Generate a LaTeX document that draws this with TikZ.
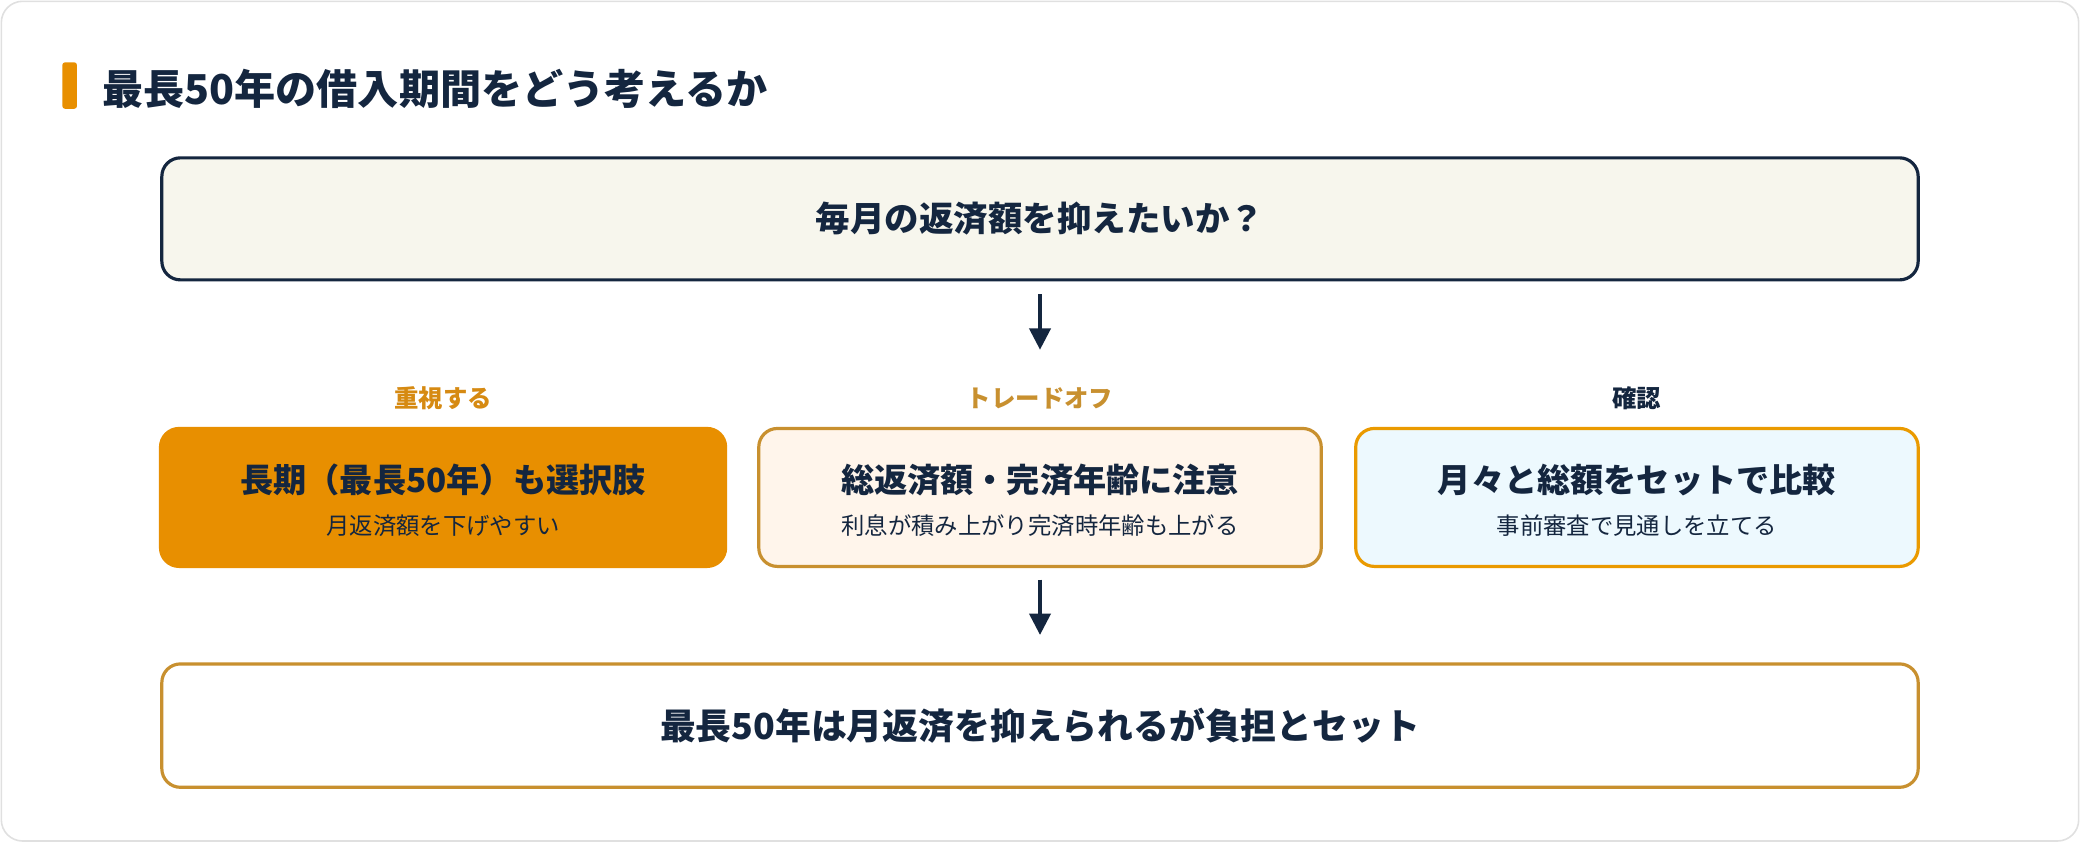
\documentclass[tikz,border=0pt]{standalone}
\usepackage{fontspec}
\setmainfont{Noto Sans CJK JP}
\usetikzlibrary{arrows.meta}
\definecolor{navy}{HTML}{14263F}
\definecolor{org}{HTML}{E88F00}
\definecolor{gold}{HTML}{C8902F}
\definecolor{lbl}{HTML}{D68A12}
\begin{document}
\begin{tikzpicture}[x=0.5pt,y=-0.5pt,
 box/.style={draw, line width=1.2pt, rounded corners=7pt, align=center, inner sep=0pt},
 arr/.style={draw=navy, line width=1.2pt, -{Triangle[length=8pt,width=8pt]}},
 lab/.style={font=\bfseries\fontsize{9.2}{11}\selectfont}]
\path[use as bounding box] (0,0) rectangle (1568,635);
\draw[color=black!12, fill=white, rounded corners=8pt, line width=0.6pt] (1,1) rectangle (1567,634);
\fill[org, rounded corners=1pt] (47,47) rectangle (58,82);
\node[anchor=west, text=navy, font=\bfseries\fontsize{15.5}{18}\selectfont] (title) at (70,67) {最長50年の借入期間をどう考えるか};
\node[box, draw=navy, fill=black!4!white!96!yellow, minimum width=662pt, minimum height=46pt, text=navy, font=\bfseries\fontsize{13}{15}\selectfont] (q) at (784,165) {毎月の返済額を抑えたいか？};
\coordinate (a1) at (784,222);
\node[inner sep=0pt] (mid) at (784,265) {};
\draw[arr] (a1) -- (mid);
\node[lab, text=lbl] (l1) at (334,300) {重視する};
\node[lab, text=gold] (l2) at (784,300) {トレードオフ};
\node[lab, text=navy] (l3) at (1234,300) {確認};
\node[box, draw=org, fill=org, minimum width=213pt, minimum height=52pt, text=navy] (b1) at (334,375) {};
\node[box, draw=gold, fill=orange!8, minimum width=212pt, minimum height=52pt] (b2) at (784,375) {};
\node[box, draw=org!90!yellow, fill=cyan!7, minimum width=212pt, minimum height=52pt] (b3) at (1234,375) {};
\foreach \n/\m/\s in {b1/長期（最長50年）も選択肢/月返済額を下げやすい, b2/総返済額・完済年齢に注意/利息が積み上がり完済時年齢も上がる, b3/月々と総額をセットで比較/事前審査で見通しを立てる}{
 \node[text=navy, font=\bfseries\fontsize{12.5}{14}\selectfont] at ([yshift=6.5pt]\n.center) {\m};
 \node[text=navy, font=\fontsize{8.8}{10}\selectfont] at ([yshift=-10.5pt]\n.center) {\s};
}
\coordinate (a2) at (784,437);
\node[inner sep=0pt] (mid2) at (784,480) {};
\draw[arr] (a2) -- (mid2);
\node[box, draw=gold, fill=white, minimum width=662pt, minimum height=46.5pt, text=navy, font=\bfseries\fontsize{13.5}{15}\selectfont] (c) at (784,547) {最長50年は月返済を抑えられるが負担とセット};
\end{tikzpicture}
\end{document}
